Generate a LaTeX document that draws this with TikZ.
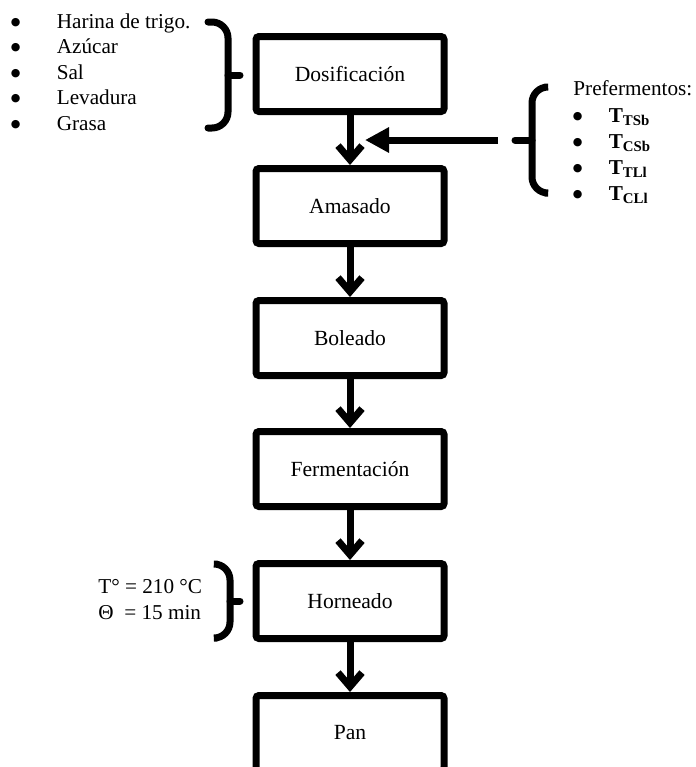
\documentclass[tikz,border=0pt]{standalone}
\usepackage{fontspec}
\setmainfont{Liberation Serif}
\newfontfamily\simbolos{DejaVu Sans}
\usetikzlibrary{arrows.meta,calc}
\newcommand{\vineta}{\makebox[6.3pt][c]{\simbolos\fontsize{5.5}{5.5}\selectfont\raisebox{1.3pt}{●}}}

\begin{document}
\begin{tikzpicture}[x=0.5pt,y=-0.5pt,
  paso/.style={draw,line width=3.5pt,rounded corners=1.5pt,minimum width=94pt,minimum height=37.5pt,inner sep=0pt,font=\fontsize{10.8}{12.5}\selectfont},
  txt/.style={anchor=base west,inner sep=0pt,font=\fontsize{10.6}{12.5}\selectfont},
  flecha/.style={-{Straight Barb[length=7pt,width=12pt]},line width=3.5pt},
  entrada/.style={-{Triangle[length=12pt,width=12pt]},line width=3.5pt},
  llave/.style={line width=3.5pt,line cap=round,rounded corners=8pt}]
  \useasboundingbox (0,0) rectangle (696,767);
  % etapas del proceso
  \node[paso] (dos) at (350,74) {Dosificación};
  \node[paso] (ama) at (350,206) {Amasado};
  \node[paso] (bol) at (350,338) {Boleado};
  \node[paso] (fer) at (350,469) {Fermentación};
  \node[paso] (hor) at (350,601) {Horneado};
  \node[paso] (pan) at (350,733) {Pan};
  \draw[flecha] (dos) -- (ama);
  \draw[flecha] (ama) -- (bol);
  \draw[flecha] (bol) -- (fer);
  \draw[flecha] (fer) -- (hor);
  \draw[flecha] (hor) -- (pan);
  % ingredientes
  \node[txt] (i1) at (9,28) {\vineta\hspace{17.4pt}Harina de trigo.};
  \node[txt] (i2) at (9,53.5) {\vineta\hspace{17.4pt}Azúcar};
  \node[txt] (i3) at (9,79) {\vineta\hspace{17.4pt}Sal};
  \node[txt] (i4) at (9,104.5) {\vineta\hspace{17.4pt}Levadura};
  \node[txt] (i5) at (9,130) {\vineta\hspace{17.4pt}Grasa};
  \draw[llave] (208,22) -| (228,128) -- (208,128);
  \draw[llave] (228,75) -- (240,75);
  % prefermentos
  \node[txt] (p0) at (573,95) {Prefermentos:};
  \node[txt] (p1) at (571,122) {\vineta\hspace{12.4pt}\textbf{T\textsubscript{TSb}}};
  \node[txt] (p2) at (571,148) {\vineta\hspace{12.4pt}\textbf{T\textsubscript{CSb}}};
  \node[txt] (p3) at (571,174) {\vineta\hspace{12.4pt}\textbf{T\textsubscript{TLl}}};
  \node[txt] (p4) at (571,200) {\vineta\hspace{12.4pt}\textbf{T\textsubscript{CLl}}};
  \draw[llave] (545,87) -| (532,193) -- (545,193);
  \draw[llave] (532,140) -- (515,140);
  \coordinate (pre) at (498,140);
  \coordinate (union) at ($(dos.south)!0.5!(ama.north)+(15,0)$);
  \draw[entrada] (pre) -- (union);
  % condiciones de horneado
  \node[txt] (h1) at (98,593) {T° = 210 °C};
  \node[txt] (h2) at (98,619) {Θ~ = 15 min};
  \draw[llave] (217,564) -| (230,638) -- (217,638);
  \draw[llave] (230,601) -- (240,601);
\end{tikzpicture}
\end{document}
